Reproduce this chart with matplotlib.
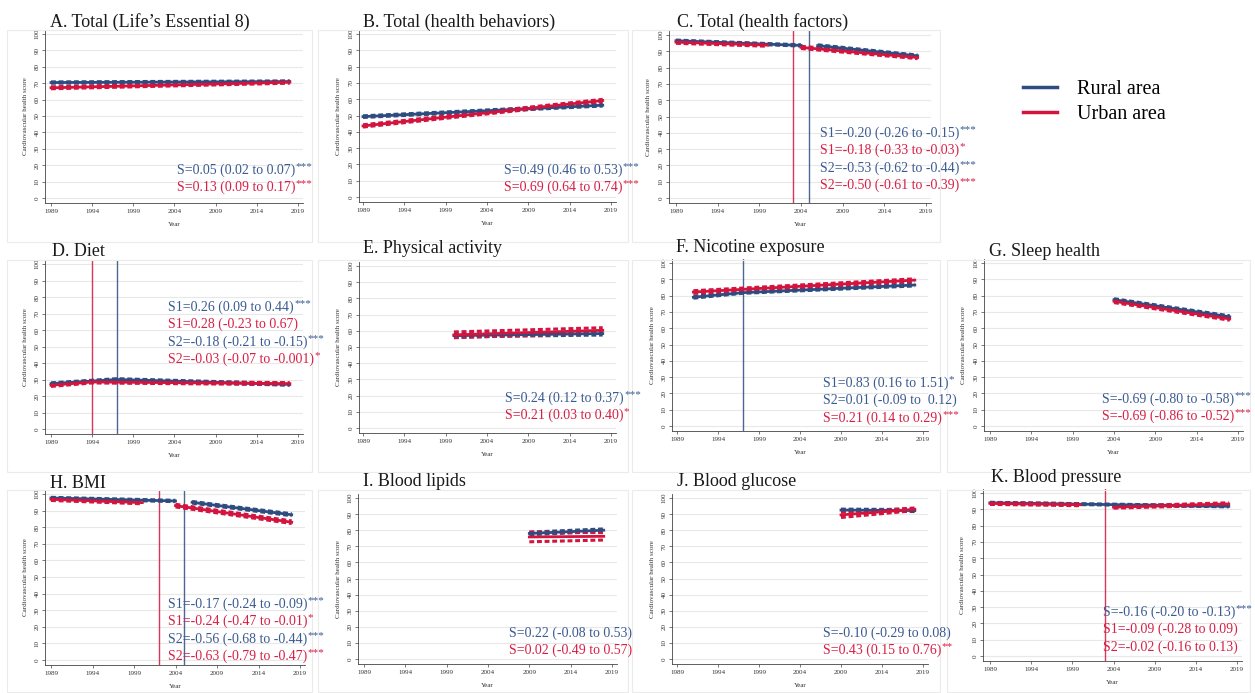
import numpy as np
import matplotlib
matplotlib.use("Agg")
import matplotlib.pyplot as plt
from matplotlib.lines import Line2D
from matplotlib.patches import Rectangle
from matplotlib.text import Annotation

plt.rcParams['font.family'] = ['Liberation Serif', 'DejaVu Serif']

nan = np.nan
RURAL = '#2E4C80'
URBAN = '#D2143F'
RURAL_TXT = '#3A5A90'
URBAN_TXT = '#D81E45'

# ---------------- data ----------------
a_rural_x = [1989, 2018]; a_rural_y = [70.4, 71.0]; a_rural_ci = [0.4, 0.4]
a_urban_x = [1989, 2018]; a_urban_y = [67.2, 70.6]; a_urban_ci = [0.6, 0.6]

b_rural_x = [1989, 2018]; b_rural_y = [49.3, 56.3]; b_rural_ci = [0.5, 0.5]
b_urban_x = [1989, 2018]; b_urban_y = [43.6, 59.2]; b_urban_ci = [0.7, 0.7]

c_rural_x = [1989, 2004, nan, 2006, 2018]; c_rural_y = [96.5, 93.6, nan, 93.5, 87.2]; c_rural_ci = [0.4, 0.4, nan, 0.5, 0.5]
c_urban_x = [1989, 2000, nan, 2004, 2018]; c_urban_y = [95.6, 93.8, nan, 92.4, 86.2]; c_urban_ci = [0.7, 0.7, nan, 0.7, 0.7]
c_knots_rural = [2005]; c_knots_urban = [2003]

d_rural_x = [1989, 1997, 2018]; d_rural_y = [27.5, 30.0, 27.0]; d_rural_ci = [0.5, 0.5, 0.5]
d_urban_x = [1989, 1994, 2018]; d_urban_y = [26.5, 28.5, 27.5]; d_urban_ci = [0.7, 0.6, 0.6]
d_knots_rural = [1997]; d_knots_urban = [1994]

e_rural_x = [2000, 2018]; e_rural_y = [57.0, 58.3]; e_rural_ci = [0.8, 0.9]
e_urban_x = [2000, 2018]; e_urban_y = [57.5, 60.3]; e_urban_ci = [1.8, 1.6]

f_rural_x = [1991, 1997, 2018]; f_rural_y = [79.0, 81.8, 86.5]; f_rural_ci = [0.6, 0.4, 0.6]
f_urban_x = [1991, 2018]; f_urban_y = [82.2, 89.5]; f_urban_ci = [0.8, 0.8]
f_knots_rural = [1997]; f_knots_urban = []

g_rural_x = [2004, 2018]; g_rural_y = [77.5, 67.0]; g_rural_ci = [0.6, 0.6]
g_urban_x = [2004, 2018]; g_urban_y = [76.5, 65.7]; g_urban_ci = [0.8, 0.8]

h_rural_x = [1989, 2004, nan, 2006, 2018]; h_rural_y = [97.6, 95.8, nan, 95.0, 87.5]; h_rural_ci = [0.4, 0.4, nan, 0.5, 0.6]
h_urban_x = [1989, 2000, nan, 2004, 2018]; h_urban_y = [96.8, 94.8, nan, 93.0, 83.0]; h_urban_ci = [0.7, 0.7, nan, 0.8, 0.8]
h_knots_rural = [2005]; h_knots_urban = [2002]

i_rural_x = [2009, 2018]; i_rural_y = [78.0, 80.0]; i_rural_ci = [0.8, 0.8]
i_urban_x = [2009, 2018]; i_urban_y = [75.8, 76.2]; i_urban_ci = [3.0, 2.3]

j_rural_x = [2009, 2018]; j_rural_y = [92.5, 92.2]; j_rural_ci = [0.6, 0.6]
j_urban_x = [2009, 2018]; j_urban_y = [89.5, 93.0]; j_urban_ci = [1.6, 0.8]

k_rural_x = [1989, 2018]; k_rural_y = [94.0, 91.8]; k_rural_ci = [0.3, 0.3]
k_urban_x = [1989, 2000, nan, 2004, 2018]; k_urban_y = [93.6, 92.8, nan, 91.3, 93.3]; k_urban_ci = [0.6, 0.6, nan, 0.6, 0.7]
k_knots_rural = []; k_knots_urban = [2003]

titles = ['A. Total (Life\u2019s Essential 8)', 'B. Total (health behaviors)', 'C. Total (health factors)',
          'D. Diet', 'E. Physical activity', 'F. Nicotine exposure', 'G. Sleep health',
          'H. BMI', 'I. Blood lipids', 'J. Blood glucose', 'K. Blood pressure']

a_text = [("S=0.05 (0.02 to 0.07)", "***", "r"), ("S=0.13 (0.09 to 0.17)", "***", "u")]
b_text = [("S=0.49 (0.46 to 0.53)", "***", "r"), ("S=0.69 (0.64 to 0.74)", "***", "u")]
c_text = [("S1=-0.20 (-0.26 to -0.15)", "***", "r"), ("S1=-0.18 (-0.33 to -0.03)", "*", "u"),
          ("S2=-0.53 (-0.62 to -0.44)", "***", "r"), ("S2=-0.50 (-0.61 to -0.39)", "***", "u")]
d_text = [("S1=0.26 (0.09 to 0.44)", "***", "r"), ("S1=0.28 (-0.23 to 0.67)", "", "u"),
          ("S2=-0.18 (-0.21 to -0.15)", "***", "r"), ("S2=-0.03 (-0.07 to -0.001)", "*", "u")]
e_text = [("S=0.24 (0.12 to 0.37)", "***", "r"), ("S=0.21 (0.03 to 0.40)", "*", "u")]
f_text = [("S1=0.83 (0.16 to 1.51)", "*", "r"), ("S2=0.01 (-0.09 to  0.12)", "", "r"),
          ("S=0.21 (0.14 to 0.29)", "***", "u")]
g_text = [("S=-0.69 (-0.80 to -0.58)", "***", "r"), ("S=-0.69 (-0.86 to -0.52)", "***", "u")]
h_text = [("S1=-0.17 (-0.24 to -0.09)", "***", "r"), ("S1=-0.24 (-0.47 to -0.01)", "*", "u"),
          ("S2=-0.56 (-0.68 to -0.44)", "***", "r"), ("S2=-0.63 (-0.79 to -0.47)", "***", "u")]
i_text = [("S=0.22 (-0.08 to 0.53)", "", "r"), ("S=0.02 (-0.49 to 0.57)", "", "u")]
j_text = [("S=-0.10 (-0.29 to 0.08)", "", "r"), ("S=0.43 (0.15 to 0.76)", "**", "u")]
k_text = [("S=-0.16 (-0.20 to -0.13)", "***", "r"), ("S1=-0.09 (-0.28 to 0.09)", "", "u"),
          ("S2=-0.02 (-0.16 to 0.13)", "", "u")]

x_ticks = [1989, 1994, 1999, 2004, 2009, 2014, 2019]
y_ticks = [0, 10, 20, 30, 40, 50, 60, 70, 80, 90, 100]
legend_labels = ['Rural area', 'Urban area']

# ---------------- layout (pixels) ----------------
W, H = 1255, 693
fig = plt.figure(figsize=(W / 100, H / 100), dpi=100)
fig.patch.set_facecolor('white')

# y-axis px, x(1989) px, x(2019) px, y(100) px, y(0) px, title pos, annotation start
layout = [
    (45, 51, 298, 34, 198, (50, 22), (177, 170)),
    (359, 363, 611, 34, 197, (363, 22), (504, 170)),
    (669, 676, 926, 35, 198, (677, 22), (820, 133)),
    (45, 51, 298, 264, 429, (52, 251), (168, 307)),
    (359, 363, 611, 266, 428, (363, 249), (505, 398)),
    (672, 677, 923, 263, 426, (676, 247), (823, 383)),
    (984, 990, 1238, 263, 426, (989, 251), (1102, 399)),
    (45, 51, 300, 494, 660, (50, 483), (168, 604)),
    (358, 364, 612, 498, 659, (363, 482), (509, 633)),
    (672, 677, 923, 498, 659, (677, 481), (823, 633)),
    (983, 990, 1237, 493, 656, (991, 477), (1103, 612)),
]
boxes = [(7, 30, 312, 242), (318, 30, 628, 242), (632, 30, 940, 242),
         (7, 260, 312, 472), (318, 260, 628, 472), (632, 260, 940, 472), (947, 260, 1250, 472),
         (7, 490, 312, 692), (318, 490, 628, 692), (632, 490, 940, 692), (947, 490, 1250, 692)]

series = [
    (a_rural_x, a_rural_y, a_rural_ci, a_urban_x, a_urban_y, a_urban_ci, [], []),
    (b_rural_x, b_rural_y, b_rural_ci, b_urban_x, b_urban_y, b_urban_ci, [], []),
    (c_rural_x, c_rural_y, c_rural_ci, c_urban_x, c_urban_y, c_urban_ci, c_knots_rural, c_knots_urban),
    (d_rural_x, d_rural_y, d_rural_ci, d_urban_x, d_urban_y, d_urban_ci, d_knots_rural, d_knots_urban),
    (e_rural_x, e_rural_y, e_rural_ci, e_urban_x, e_urban_y, e_urban_ci, [], []),
    (f_rural_x, f_rural_y, f_rural_ci, f_urban_x, f_urban_y, f_urban_ci, f_knots_rural, f_knots_urban),
    (g_rural_x, g_rural_y, g_rural_ci, g_urban_x, g_urban_y, g_urban_ci, [], []),
    (h_rural_x, h_rural_y, h_rural_ci, h_urban_x, h_urban_y, h_urban_ci, h_knots_rural, h_knots_urban),
    (i_rural_x, i_rural_y, i_rural_ci, i_urban_x, i_urban_y, i_urban_ci, [], []),
    (j_rural_x, j_rural_y, j_rural_ci, j_urban_x, j_urban_y, j_urban_ci, [], []),
    (k_rural_x, k_rural_y, k_rural_ci, k_urban_x, k_urban_y, k_urban_ci, k_knots_rural, k_knots_urban),
]
texts = [a_text, b_text, c_text, d_text, e_text, f_text, g_text, h_text, i_text, j_text, k_text]

for (x0, y0, x1, y1) in boxes:
    fig.add_artist(Rectangle((x0 / W, 1 - y1 / H), (x1 - x0) / W, (y1 - y0) / H,
                             transform=fig.transFigure, fill=False, ec='#ebebeb', lw=0.8))

LINE_GAP = 17.5
for idx, (lay, ser, txt, title) in enumerate(zip(layout, series, texts, titles)):
    yax, x89, x19, y100, y0, tpos, apos = lay
    left = yax
    right = x19 + 5
    top = y100 - 4
    bottom = y0 + 5
    ax = fig.add_axes([left / W, 1 - bottom / H, (right - left) / W, (bottom - top) / H])
    ppy = (x19 - x89) / 30.0
    ppu = (y0 - y100) / 100.0
    ax.set_xlim(1989 - (x89 - left) / ppy, 2019 + (right - x19) / ppy)
    ax.set_ylim(0 - (bottom - y0) / ppu, 100 + (y100 - top) / ppu)

    rx, ry, rci, ux, uy, uci, kr, ku = ser
    for xs, ys, ci, col in ((rx, ry, rci, RURAL), (ux, uy, uci, URBAN)):
        xs = np.array(xs, float); ys = np.array(ys, float); ci = np.array(ci, float)
        ax.plot(xs, ys - ci, color=col, lw=2.2, ls=(0, (1.6, 0.9)), solid_capstyle='butt', zorder=3)
        ax.plot(xs, ys + ci, color=col, lw=2.2, ls=(0, (1.6, 0.9)), solid_capstyle='butt', zorder=3)
        ax.plot(xs, ys, color=col, lw=2.0, zorder=4)
    for k in kr:
        ax.axvline(k, color=RURAL, lw=1.0, alpha=0.85, zorder=2)
    for k in ku:
        ax.axvline(k, color=URBAN, lw=1.0, alpha=0.85, zorder=2)

    ax.set_xticks(x_ticks)
    ax.set_xticklabels([str(t) for t in x_ticks], fontsize=5.0)
    ax.set_yticks(y_ticks)
    ax.set_yticklabels([str(t) for t in y_ticks], fontsize=5.0, rotation=90, va='center')
    ax.tick_params(axis='both', length=2.5, width=0.5, color='#444444', pad=1.5, labelcolor='#333333')
    ax.yaxis.grid(True, color='#e8e8e8', lw=0.8)
    ax.set_axisbelow(True)
    for s in ('top', 'right'):
        ax.spines[s].set_visible(False)
    for s in ('left', 'bottom'):
        ax.spines[s].set_color('#444444')
        ax.spines[s].set_linewidth(0.6)
    ax.set_xlabel('Year', fontsize=5.0, labelpad=6, color='#333333')
    ax.set_ylabel('Cardiovascular health score', fontsize=5.0, labelpad=5, color='#333333')

    fig.text(tpos[0] / W, 1 - tpos[1] / H, title, fontsize=13, va='center', ha='left', color='#1a1a1a')

    for j, (s, stars, grp) in enumerate(txt):
        col = RURAL_TXT if grp == 'r' else URBAN_TXT
        t = fig.text(apos[0] / W, 1 - (apos[1] + j * LINE_GAP) / H, s, fontsize=10,
                     va='center', ha='left', color=col)
        if stars:
            ann = Annotation(stars, xy=(1.0, 1.0), xycoords=t, fontsize=8, color=col,
                             va='top', ha='left', xytext=(0.3, 1.0), textcoords='offset points')
            fig.add_artist(ann)

handles = [Line2D([], [], color=RURAL, lw=2.5), Line2D([], [], color=URBAN, lw=2.5)]
fig.legend(handles, legend_labels, loc='upper left', bbox_to_anchor=(1023 / W, 1 - 80 / H),
           frameon=False, fontsize=14.5, handlelength=1.7, handletextpad=1.0, labelspacing=0.28,
           borderpad=0, borderaxespad=0)

fig.savefig('out.png', dpi=100, facecolor='white')
